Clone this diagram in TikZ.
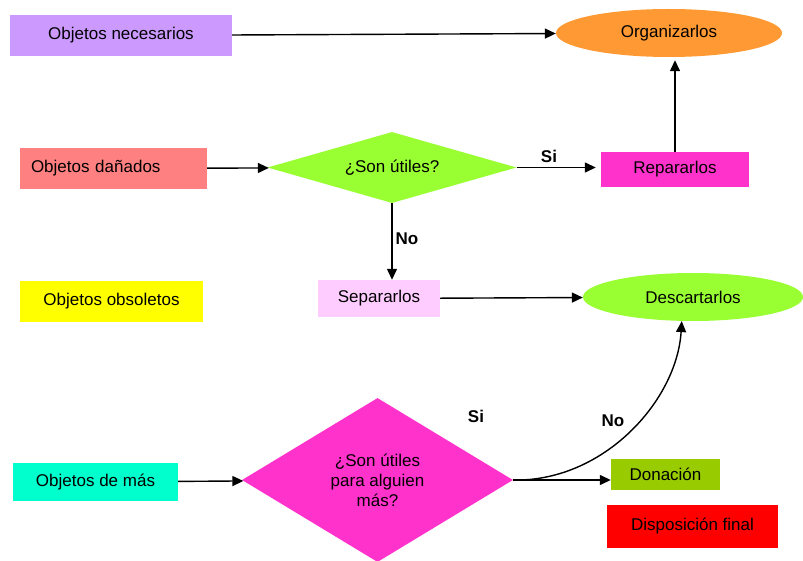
\documentclass[tikz,border=0pt]{standalone}
\usepackage{fontspec}
\setmainfont{Liberation Sans}
\usetikzlibrary{shapes.geometric, arrows.meta, positioning}

\definecolor{lila}{HTML}{CC99FF}
\definecolor{naranja}{HTML}{FF9933}
\definecolor{salmon}{HTML}{FF8080}
\definecolor{lima}{HTML}{99FF33}
\definecolor{fucsia}{HTML}{FF33CC}
\definecolor{amarillo}{HTML}{FFFF00}
\definecolor{rosa}{HTML}{FFCCFF}
\definecolor{turquesa}{HTML}{00FFCC}
\definecolor{oliva}{HTML}{99CC00}
\definecolor{rojo}{HTML}{FF0000}

\begin{document}
\begin{tikzpicture}[
    x=1pt, y=-1pt,
    every node/.style={font=\fontsize{17}{20}\selectfont, inner sep=0pt},
    caja/.style={rectangle, align=center},
    ovalo/.style={ellipse, minimum width=226, minimum height=48},
    rombo/.style={diamond, align=center},
    flecha/.style={-{Triangle[length=11pt, width=10pt]}, line width=1.4pt},
    etiq/.style={font=\bfseries\fontsize{17}{20}\selectfont}
  ]
  \useasboundingbox (0,0) rectangle (803,561);
  \clip (0,0) rectangle (803,561);

  \node[caja, fill=lila, minimum width=222, minimum height=41] (nec) at (121,35.5) {Objetos necesarios};
  \node[ovalo, fill=naranja] (org) at (669,33) {Organizarlos};

  \node[caja, fill=salmon, minimum height=41, inner xsep=11pt, text width=165pt, align=left] (dan) at (113.5,168.5) {Objetos dañados};
  \node[rombo, fill=lima, minimum width=249, minimum height=71, aspect=3.5] (util) at (392,167.5) {¿Son útiles?};
  \node[caja, fill=fucsia, minimum width=148, minimum height=35] (rep) at (675,169.5) {Repararlos};

  \node[caja, fill=amarillo, minimum width=183, minimum height=41] (obs) at (111.5,301.5) {Objetos obsoletos};
  \node[caja, fill=rosa, minimum width=122, minimum height=37] (sep) at (379,298.5) {Separarlos};
  \node[ovalo, fill=lima, minimum width=220] (desc) at (693,297) {Descartarlos};

  \node[caja, fill=turquesa, minimum width=165, minimum height=38] (mas) at (95.5,482) {Objetos de más};
  \node[rombo, fill=fucsia, minimum width=271, minimum height=164, aspect=1.65] (alg) at (377.5,480) {¿Son útiles\\para alguien\\más?};
  \node[caja, fill=oliva, minimum width=109, minimum height=31] (don) at (665.5,474.5) {Donación};
  \node[caja, fill=rojo, minimum width=171, minimum height=43] (fin) at (692.5,526.5) {Disposición final};

  \draw[flecha] (nec) -- (org);
  \draw[flecha] (dan) -- (util);
  \draw[flecha, shorten >=5pt] (util.east) -- (util.east -| rep.west);
  \draw[flecha, shorten >=3pt] (rep.north) -- (rep.north |- org.south);
  \draw[flecha] (util.south) -- (util.south |- sep.north);
  \draw[flecha] (sep) -- (desc);
  \draw[flecha] (mas) -- (alg);
  \draw[flecha] (alg.east) .. controls +(90,2) and +(-5,80) .. (desc.245);
  \draw[flecha] (alg.east) -- (alg.east -| don.west);

  \node[etiq] (si1) at (549,156) {Si};
  \node[etiq] (no1) at (407,239) {No};
  \node[etiq] (si2) at (476,416) {Si};
  \node[etiq] (no2) at (613,421) {No};

\end{tikzpicture}
\end{document}
